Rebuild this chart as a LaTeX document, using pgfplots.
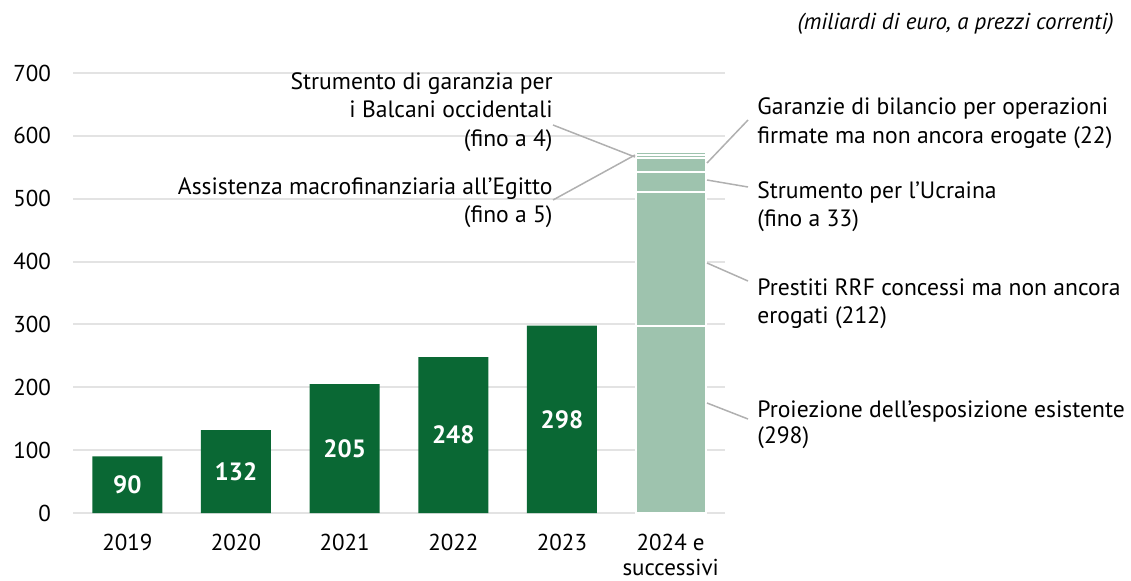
\documentclass[border=0pt]{standalone}
\usepackage{pgfplots}
\pgfplotsset{compat=1.18}
\usepackage{fontspec}
\setmainfont{PT Sans}

\definecolor{dkgreen}{HTML}{0A6834}
\definecolor{ltgreen}{HTML}{9EC3AE}
\definecolor{gridgray}{HTML}{E3E3E3}
\definecolor{leadgray}{HTML}{B0B0B0}

\tikzset{barval/.style={text=white, font=\bfseries\fontsize{12.5}{14}\selectfont}}

\begin{document}
\begin{tikzpicture}
\useasboundingbox (0,0) rectangle (565.5pt,290pt);
\begin{axis}[
    at={(36.5pt,33.5pt)}, anchor=south west,
    scale only axis, width=326pt, height=220pt,
    ybar stacked, bar width=35pt,
    xmin=-0.5, xmax=5.5, ymin=0, ymax=700,
    axis line style={draw=none},
    major tick length=0pt,
    ymajorgrids, grid style={gridgray, line width=1pt},
    ytick={0,100,...,700},
    xtick={0,...,5},
    xticklabels={2019,2020,2021,2022,2023,{2024 e\\successivi}},
    /pgf/number format/assume math mode=true,
    tick label style={font=\fontsize{11.5}{12.5}\selectfont, text=black},
    xticklabel style={align=center, yshift=-7pt},
    yticklabel style={xshift=-7.5pt},
    clip=false,
]
% dark bars 2019-2023
\addplot[fill=dkgreen, draw=none] coordinates {(0,90) (1,132) (2,205) (3,248) (4,298) (5,0)};
% 2024 e successivi, stacked
\addplot[fill=ltgreen, draw=white, line width=1pt] coordinates {(0,0) (1,0) (2,0) (3,0) (4,0) (5,298)};
\addplot[fill=ltgreen, draw=white, line width=1pt] coordinates {(0,0) (1,0) (2,0) (3,0) (4,0) (5,212)};
\addplot[fill=ltgreen, draw=white, line width=1pt] coordinates {(0,0) (1,0) (2,0) (3,0) (4,0) (5,33)};
\addplot[fill=ltgreen, draw=white, line width=1pt] coordinates {(0,0) (1,0) (2,0) (3,0) (4,0) (5,22)};
\addplot[fill=ltgreen, draw=white, line width=1pt] coordinates {(0,0) (1,0) (2,0) (3,0) (4,0) (5,5)};
\addplot[fill=ltgreen, draw=white, line width=1pt] coordinates {(0,0) (1,0) (2,0) (3,0) (4,0) (5,4)};

% mid-bar positions for the value labels
\coordinate (v0) at (axis cs:0,45);
\coordinate (v1) at (axis cs:1,66);
\coordinate (v2) at (axis cs:2,102.5);
\coordinate (v3) at (axis cs:3,124);
\coordinate (v4) at (axis cs:4,149);
\end{axis}

\node[barval] at (v0) {90};
\node[barval] at (v1) {132};
\node[barval] at (v2) {205};
\node[barval] at (v3) {248};
\node[barval] at (v4) {298};

% annotations (pixel grid of the reference)
\begin{scope}[x=0.5pt, y=-0.5pt, yshift=290pt, font=\fontsize{11.8}{13}\selectfont]
\node[anchor=base east, inner sep=0, font=\itshape\fontsize{11.5}{13}\selectfont] at (1114,30) {(miliardi di euro, a prezzi correnti)};

\draw[leadgray, line width=0.75pt] (553,125) -- (635,157);
\draw[leadgray, line width=0.75pt] (553,200) -- (635,155);
\draw[leadgray, line width=0.75pt] (707,163) -- (748,120);
\draw[leadgray, line width=0.75pt] (707,180) -- (748,187);
\draw[leadgray, line width=0.75pt] (707,263) -- (748,281);
\draw[leadgray, line width=0.75pt] (707,403) -- (748,419);

\node[anchor=base east, inner sep=0] at (553,89) {Strumento di garanzia per};
\node[anchor=base east, inner sep=0] at (553,117) {i Balcani occidentali};
\node[anchor=base east, inner sep=0] at (553,146) {(fino a 4)};
\node[anchor=base east, inner sep=0] at (553,194) {Assistenza macrofinanziaria all’Egitto};
\node[anchor=base east, inner sep=0] at (553,222) {(fino a 5)};

\node[anchor=base west, inner sep=0] at (757,114) {Garanzie di bilancio per operazioni};
\node[anchor=base west, inner sep=0] at (757,143) {firmate ma non ancora erogate (22)};
\node[anchor=base west, inner sep=0] at (757,198) {Strumento per l’Ucraina};
\node[anchor=base west, inner sep=0] at (757,226) {(fino a 33)};
\node[anchor=base west, inner sep=0] at (757,295) {Prestiti RRF concessi ma non ancora};
\node[anchor=base west, inner sep=0] at (757,323) {erogati (212)};
\node[anchor=base west, inner sep=0] at (757,417) {Proiezione dell’esposizione esistente};
\node[anchor=base west, inner sep=0] at (757,443) {(298)};
\end{scope}
\end{tikzpicture}
\end{document}
